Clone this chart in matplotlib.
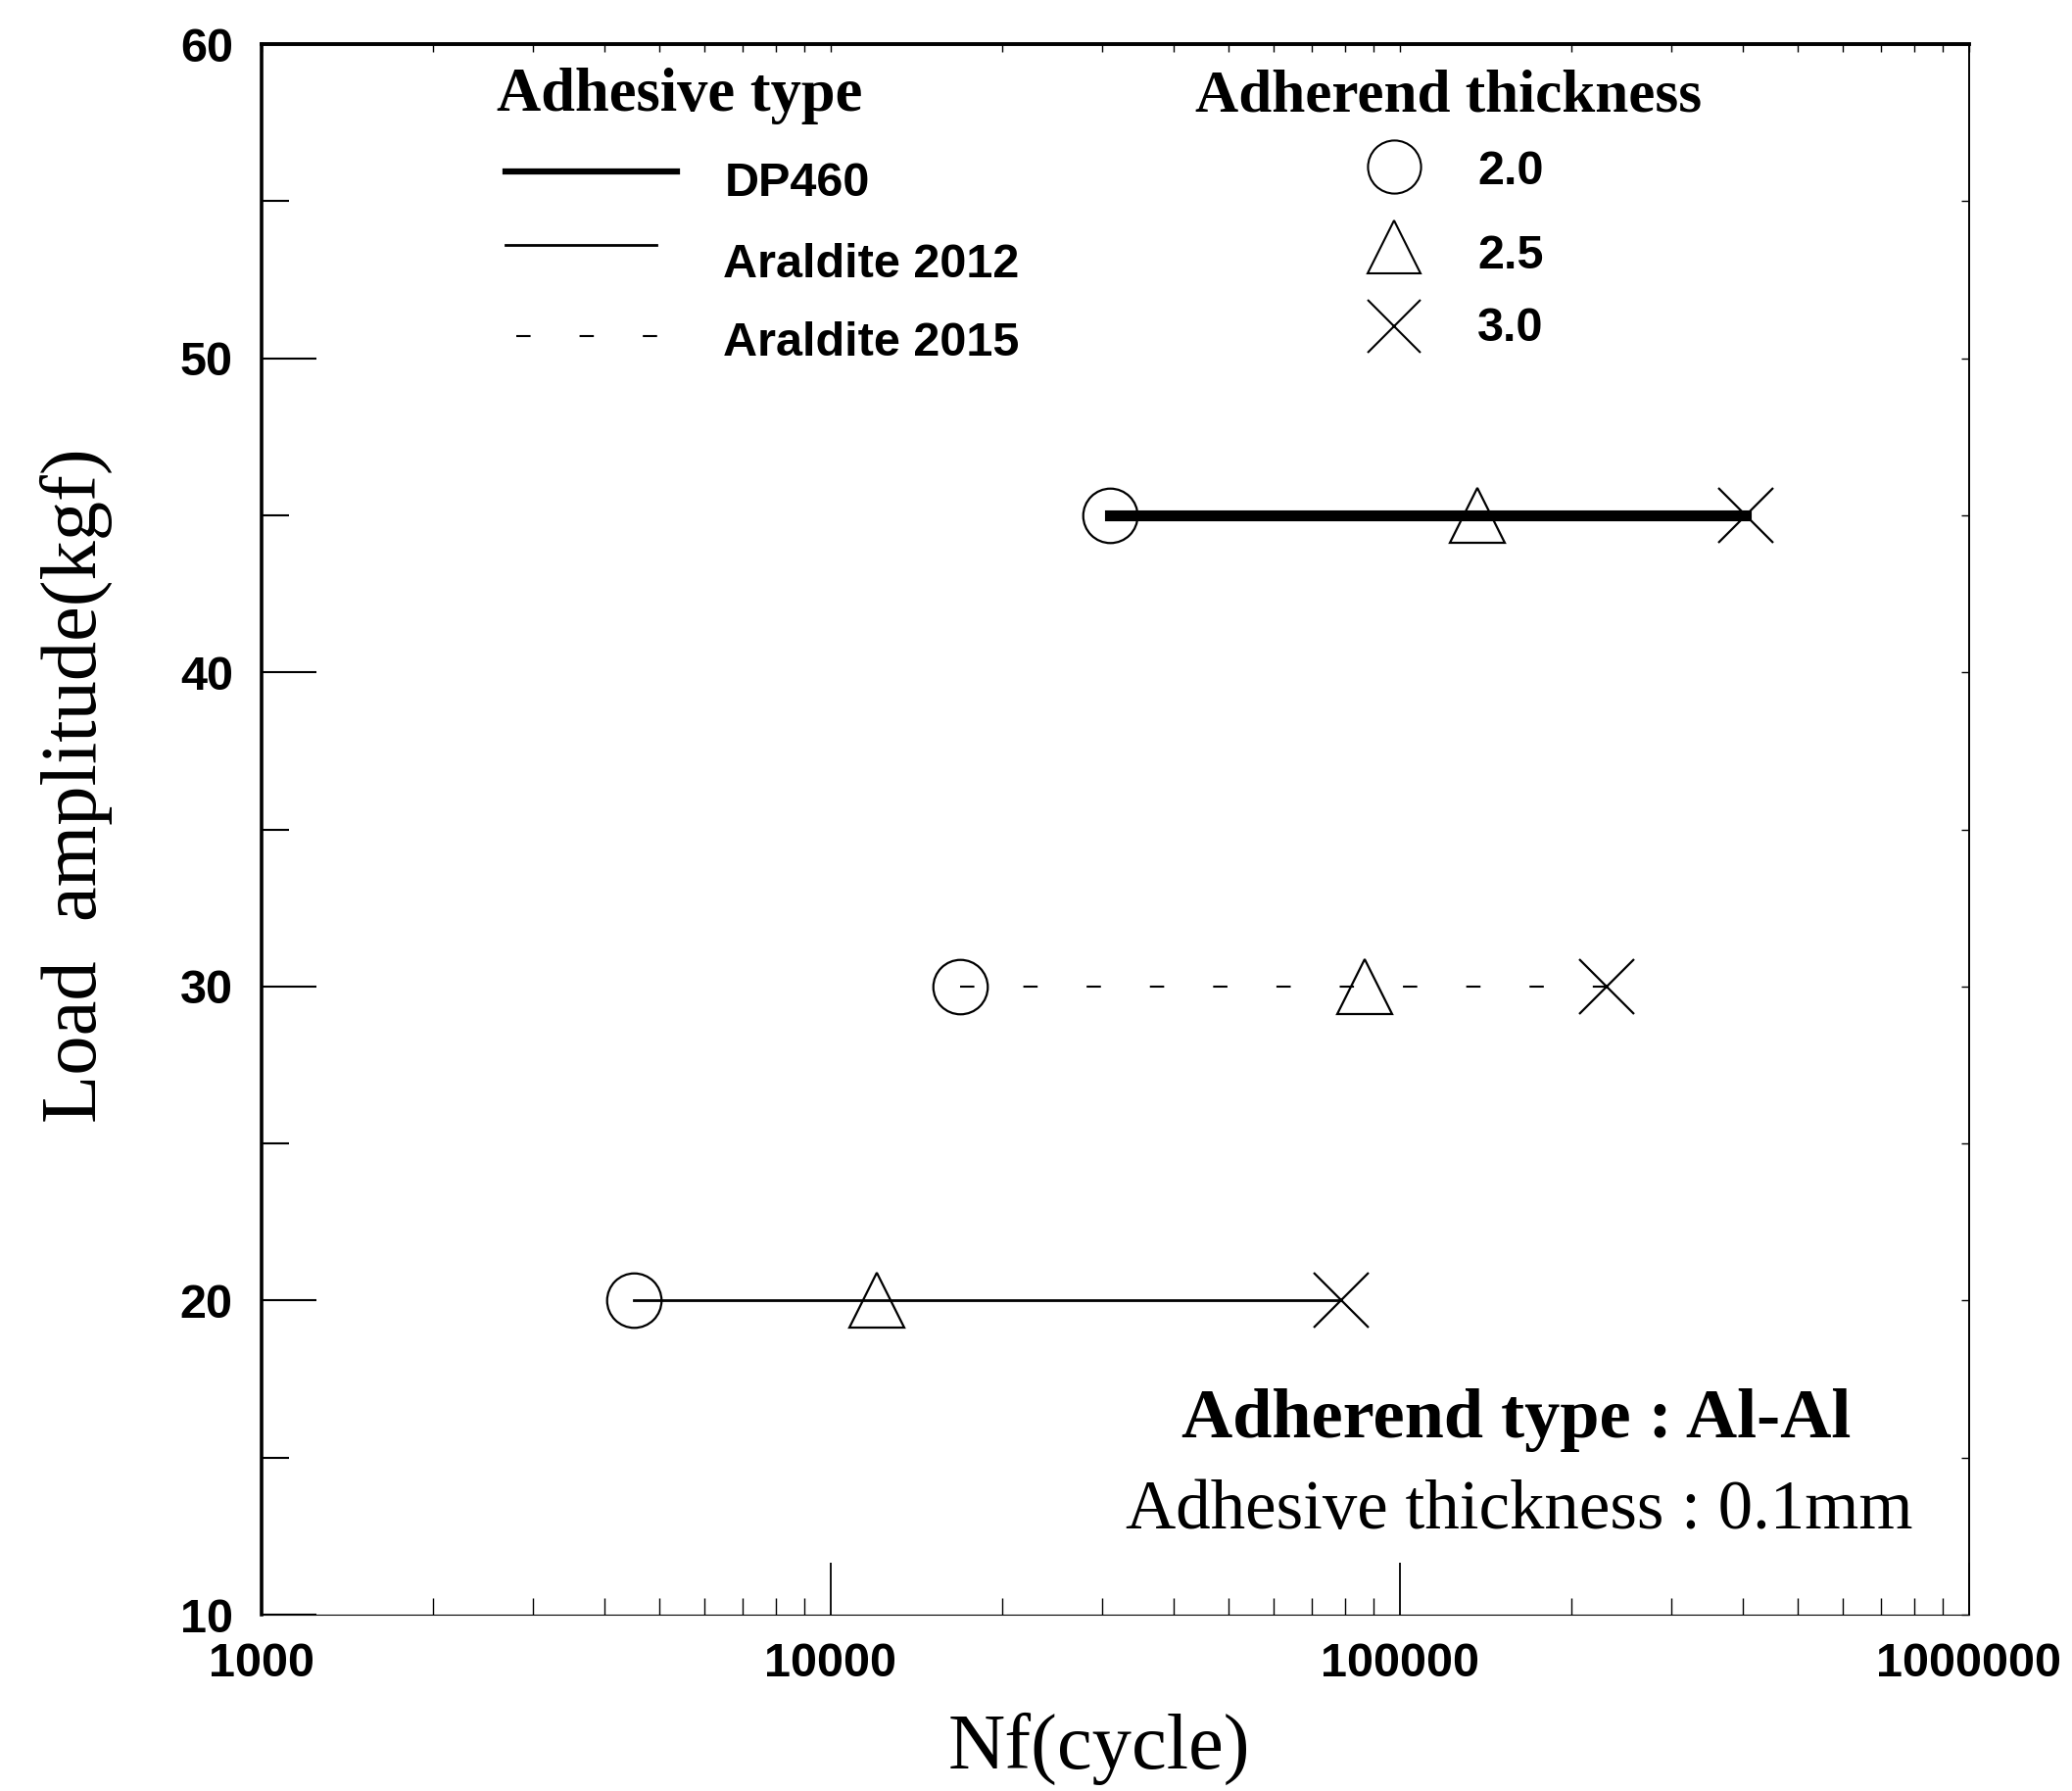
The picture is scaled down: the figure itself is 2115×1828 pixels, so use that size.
import matplotlib

matplotlib.use("Agg")
import matplotlib.pyplot as plt
from matplotlib.lines import Line2D
from matplotlib.ticker import FixedLocator, NullFormatter

# data
adhesives = ["DP460", "Araldite 2012", "Araldite 2015"]
load_amplitude = [45, 20, 30]          # kgf
thickness_labels = ["2.0", "2.5", "3.0"]  # adherend thickness (mm)
nf_dp460 = [31000, 137000, 405000]
nf_araldite2012 = [4510, 12050, 78900]
nf_araldite2015 = [16900, 86700, 230800]

x_ticks = [1e3, 1e4, 1e5, 1e6]
x_tick_labels = ["1000", "10000", "100000", "1000000"]
y_ticks = [10, 20, 30, 40, 50, 60]
y_minor = [15, 25, 35, 45, 55]

W, H = 2115, 1828
SANS = "Liberation Sans"
SERIF = "Liberation Serif"


def fxy(x, y):
    """pixel position in the reference image -> figure fraction"""
    return x / W, 1 - y / H


fig = plt.figure(figsize=(W / 100, H / 100), dpi=100)
ax = fig.add_axes([267 / W, 180 / H, 1743 / W, 1603 / H])

series = [
    (nf_dp460, dict(color="k", lw=8, ls="-")),
    (nf_araldite2012, dict(color="k", lw=2, ls="-")),
    (nf_araldite2015, dict(color="k", lw=1.5, ls=(0, (7, 24)))),
]
markers = ["o", "^", "x"]
for (nf, style), load in zip(series, load_amplitude):
    ax.plot(nf, [load] * len(nf), zorder=2, **style)
    for x, m in zip(nf, markers):
        ax.plot([x], [load], marker=m, ls="none", ms=40, mfc="none",
                mec="k", mew=1.6, zorder=1)

ax.set_xscale("log")
ax.set_xlim(x_ticks[0], x_ticks[-1])
ax.set_ylim(y_ticks[0], y_ticks[-1])
ax.xaxis.set_major_locator(FixedLocator(x_ticks))
ax.set_xticklabels(x_tick_labels)
ax.xaxis.set_minor_locator(FixedLocator(
    [d * k for d in x_ticks[:-1] for k in range(2, 10)]))
ax.xaxis.set_minor_formatter(NullFormatter())
ax.set_yticks(y_ticks)
ax.yaxis.set_minor_locator(FixedLocator(y_minor))

ax.tick_params(axis="y", which="major", direction="in", length=40, width=1.5, pad=21)
ax.tick_params(axis="y", which="minor", direction="in", length=20, width=1.5)
ax.tick_params(axis="x", which="major", direction="in", length=38, width=1.3, pad=20)
ax.tick_params(axis="x", which="minor", direction="in", length=12, width=1.0)
for lab in ax.get_xticklabels() + ax.get_yticklabels():
    lab.set_fontfamily(SANS)
    lab.set_fontweight("bold")
    lab.set_fontsize(35)

# small inward ticks on the top and right frame
top = ax.secondary_xaxis("top")
top.set_xticks(x_ticks)
top.xaxis.set_minor_locator(FixedLocator(
    [d * k for d in x_ticks[:-1] for k in range(2, 10)]))
top.tick_params(which="both", direction="in", length=6, width=1.0,
                labeltop=False)
top.xaxis.set_minor_formatter(NullFormatter())
right = ax.secondary_yaxis("right")
right.set_yticks(y_ticks)
right.yaxis.set_minor_locator(FixedLocator(y_minor))
right.tick_params(which="both", direction="in", length=6, width=1.0,
                  labelright=False)

ax.spines["left"].set_linewidth(2.6)
ax.spines["top"].set_linewidth(2.6)
ax.spines["right"].set_linewidth(1.2)
ax.spines["bottom"].set_linewidth(0.8)
top.spines["top"].set_linewidth(2.6)
right.spines["right"].set_linewidth(1.2)

ax.set_xlabel("Nf(cycle)", family=SERIF, fontsize=58)
ax.xaxis.set_label_coords(0.4905, -0.062)
ax.set_ylabel("Load  amplitude(kgf)", family=SERIF, fontsize=58)
ax.yaxis.set_label_coords(-0.087, 0.528)

# legend: adhesive type
fig.text(*fxy(507, 113), "Adhesive type", family=SERIF, weight="bold",
         fontsize=45, va="baseline")
legend_lines = [
    ((516, 691, 175), (740, 200), series[0][1]),
    ((516, 670, 250), (738, 283), series[1][1]),
    ((527, 690, 343), (738, 363), series[2][1]),
]
for ((x0, x1, y), (tx, ty), style), name in zip(legend_lines, adhesives):
    st = dict(style)
    st["lw"] = min(st["lw"], 4.5)
    fig.add_artist(Line2D([x0 / W, x1 / W], [1 - y / H] * 2,
                          transform=fig.transFigure, **st))
    fig.text(*fxy(tx, ty), name, family=SANS, weight="bold", fontsize=35,
             va="baseline")

# legend: adherend thickness
fig.text(*fxy(1220, 114), "Adherend thickness", family=SERIF, weight="bold",
         fontsize=44, va="baseline")
for m, y, ty, lab in zip(markers, [170, 252, 333], [188, 274, 348],
                         thickness_labels):
    x, yy = fxy(1423, y)
    fig.add_artist(Line2D([x], [yy], marker=m, ls="none", ms=39, mfc="none",
                          mec="k", mew=1.5, transform=fig.transFigure))
    fig.text(*fxy(1508, ty), lab, family=SANS, weight="bold", fontsize=35,
             va="baseline")

# specimen notes
fig.text(*fxy(1548, 1467), "Adherend type : Al-Al", family=SERIF,
         weight="bold", fontsize=52, ha="center", va="baseline")
fig.text(*fxy(1551, 1560), "Adhesive thickness : 0.1mm", family=SERIF,
         fontsize=51, ha="center", va="baseline")

fig.savefig("out.png", dpi=100)
